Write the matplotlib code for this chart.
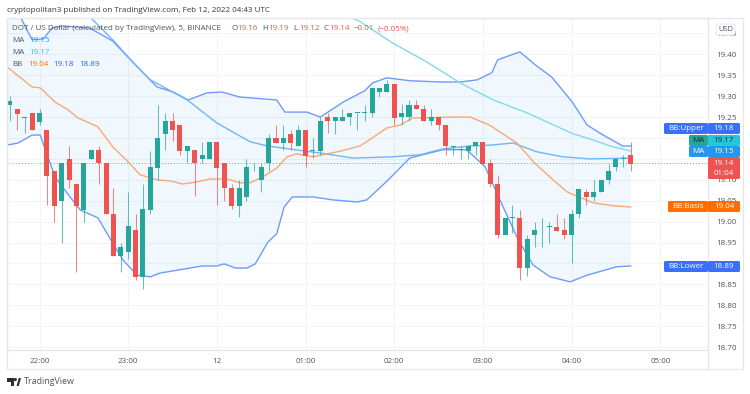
#!/usr/bin/env python3
"""DOT / US Dollar 5 minute candles with Bollinger Bands and two moving averages."""

import matplotlib
matplotlib.use("Agg")
import matplotlib.pyplot as plt
from matplotlib.patches import FancyBboxPatch, Rectangle, Circle, Polygon
from matplotlib.transforms import Affine2D
import numpy as np

W, H = 750, 394

# bar number 0 is the 22:00 candle, one bar = 5 minutes
bar_idx = list(range(-4, 81))
opens = [19.278, 19.270, 19.248, 19.260, 19.238, 19.220, 19.120, 19.049, 19.150, 19.090,
         19.028, 19.150, 19.171, 19.140, 19.019, 18.919, 18.928, 18.979, 18.868, 19.028,
         19.129, 19.209, 19.240, 19.230, 19.169, 19.171, 19.149, 19.149, 19.190, 19.140,
         19.081, 19.038, 19.060, 19.120, 19.100, 19.140, 19.200, 19.189, 19.210, 19.180,
         19.220, 19.169, 19.170, 19.250, 19.240, 19.240, 19.250, 19.259, 19.259, 19.259,
         19.309, 19.309, 19.330, 19.250, 19.250, 19.279, 19.269, 19.240, 19.250, 19.230,
         19.179, 19.171, 19.170, 19.180, 19.190, 19.140, 19.090, 18.968, 19.008, 19.008,
         18.889, 18.968, 18.979, 18.988, 18.988, 18.979, 18.968, 19.018, 19.070, 19.059,
         19.070, 19.099, 19.130, 19.149, 19.160]
closes = [19.289, 19.258, 19.250, 19.218, 19.260, 19.109, 19.037, 19.140, 19.100, 19.037,
          19.140, 19.171, 19.140, 19.018, 18.919, 18.939, 18.990, 18.868, 19.030, 19.130,
          19.200, 19.240, 19.219, 19.169, 19.180, 19.140, 19.160, 19.190, 19.129, 19.080,
          19.038, 19.081, 19.131, 19.121, 19.130, 19.200, 19.189, 19.200, 19.189, 19.220,
          19.158, 19.171, 19.240, 19.240, 19.250, 19.250, 19.259, 19.260, 19.260, 19.319,
          19.319, 19.330, 19.249, 19.259, 19.279, 19.269, 19.240, 19.250, 19.230, 19.180,
          19.180, 19.172, 19.180, 19.190, 19.139, 19.089, 18.968, 19.008, 19.009, 18.889,
          18.958, 18.979, 18.980, 18.989, 18.978, 18.968, 19.018, 19.079, 19.059, 19.070,
          19.100, 19.120, 19.150, 19.150, 19.139]
highs = [19.301, 19.270, 19.250, 19.260, 19.270, 19.220, 19.120, 19.140, 19.180, 19.090,
         19.140, 19.171, 19.180, 19.140, 19.080, 18.949, 19.070, 19.019, 19.090, 19.170,
         19.279, 19.259, 19.259, 19.230, 19.180, 19.171, 19.190, 19.190, 19.190, 19.140,
         19.090, 19.100, 19.150, 19.140, 19.140, 19.210, 19.230, 19.230, 19.220, 19.230,
         19.220, 19.200, 19.250, 19.259, 19.250, 19.269, 19.259, 19.260, 19.279, 19.319,
         19.319, 19.339, 19.330, 19.281, 19.290, 19.290, 19.279, 19.269, 19.250, 19.230,
         19.180, 19.180, 19.180, 19.190, 19.190, 19.150, 19.111, 19.008, 19.039, 19.029,
         18.969, 18.999, 19.008, 18.999, 19.019, 19.008, 19.029, 19.079, 19.079, 19.100,
         19.100, 19.139, 19.150, 19.160, 19.190]
lows = [19.240, 19.219, 19.211, 19.218, 19.230, 19.040, 18.9995, 18.950, 19.081, 18.880,
        18.9995, 19.150, 19.091, 19.018, 18.919, 18.880, 18.910, 18.860, 18.840, 19.018,
        19.100, 19.172, 19.192, 19.160, 19.140, 19.062, 19.140, 19.149, 19.040, 19.050,
        19.030, 19.010, 19.050, 19.120, 19.070, 19.120, 19.189, 19.171, 19.171, 19.180,
        19.131, 19.151, 19.160, 19.212, 19.210, 19.240, 19.230, 19.220, 19.240, 19.250,
        19.299, 19.309, 19.230, 19.230, 19.240, 19.269, 19.240, 19.230, 19.220, 19.160,
        19.160, 19.150, 19.150, 19.160, 19.139, 19.082, 18.960, 18.968, 18.972, 18.860,
        18.870, 18.940, 18.940, 18.949, 18.978, 18.959, 18.900, 19.009, 19.040, 19.050,
        19.070, 19.090, 19.120, 19.130, 19.120]

upper_x = [-4.4, -2.6, -1.0, 0.5, 1.7, 3.2, 6.8, 9.9, 12.7, 15.9, 18.1, 20.1, 22.7, 24.7, 27.1,
           32.1, 33.2, 36.2, 38.0, 41.1, 44.0, 45.1, 47.0, 50.1, 54.2, 56.9, 59.2, 61.2, 62.0,
           65.0, 67.3, 69.3, 72.1, 74.1, 76.0, 78.9, 80.0]
upper_y = [19.56, 19.490, 19.435, 19.437, 19.463, 19.468, 19.463, 19.432, 19.380, 19.322, 19.310,
           19.291, 19.308, 19.310, 19.298, 19.291, 19.262, 19.262, 19.250, 19.286, 19.313, 19.332,
           19.344, 19.337, 19.334, 19.334, 19.339, 19.356, 19.387, 19.406, 19.372, 19.346, 19.286,
           19.231, 19.210, 19.181, 19.181]
lower_x = [-4.4, -2.9, -1.0, 0.1, 0.7, 2.1, 3.7, 5.5, 7.9, 9.9, 11.3, 13.2, 15.0, 16.3, 19.7, 22.0,
           24.0, 25.0, 26.5, 28.1, 29.2, 30.9, 32.1, 33.1, 34.2, 37.0, 39.7, 43.0, 44.3, 47.2, 50.1,
           51.9, 54.6, 57.8, 60.3, 62.3, 64.8, 66.8, 69.1, 71.8, 74.1, 78.1, 80.0]
lower_y = [19.183, 19.188, 19.207, 19.207, 19.176, 19.107, 19.069, 19.028, 19.009, 18.949, 18.908,
           18.872, 18.868, 18.877, 18.887, 18.894, 18.894, 18.899, 18.889, 18.889, 18.899, 18.951,
           18.971, 19.035, 19.059, 19.059, 19.052, 19.047, 19.052, 19.100, 19.152, 19.160, 19.172,
           19.172, 19.131, 19.052, 18.956, 18.896, 18.868, 18.856, 18.872, 18.892, 18.894]
basis_x = [-4.4, -1.0, 0.1, 2.1, 3.9, 5.2, 7.9, 9.9, 12.0, 13.6, 15.9, 17.7, 19.4, 21.3, 23.1, 25.4,
           27.1, 28.5, 30.2, 32.1, 33.5, 34.8, 37.0, 40.3, 43.4, 47.0, 48.8, 50.5, 55.9, 58.3, 60.9,
           61.9, 64.6, 67.0, 69.5, 71.4, 74.9, 77.6, 80.0]
basis_y = [19.370, 19.322, 19.320, 19.286, 19.267, 19.248, 19.227, 19.179, 19.143, 19.112, 19.100,
           19.097, 19.090, 19.095, 19.102, 19.102, 19.093, 19.093, 19.107, 19.128, 19.155, 19.162,
           19.155, 19.167, 19.181, 19.224, 19.231, 19.248, 19.250, 19.250, 19.231, 19.219, 19.188,
           19.140, 19.100, 19.071, 19.045, 19.038, 19.035]
ma_fast_x = [6.8, 9.9, 12.7, 15.0, 20.0, 24.0, 28.5, 30.8, 32.9, 38.0, 42.4, 47.8, 51.5, 54.6, 58.3,
             61.0, 64.1, 67.3, 70.8, 74.5, 80.0]
ma_fast_y = [19.490, 19.435, 19.380, 19.339, 19.291, 19.236, 19.191, 19.181, 19.176, 19.164, 19.152,
             19.155, 19.160, 19.174, 19.181, 19.183, 19.188, 19.167, 19.155, 19.150, 19.152]
ma_slow_x = [42.4, 43.4, 47.8, 52.4, 56.9, 61.4, 66.0, 72.2, 74.1, 77.6, 80.0]
ma_slow_y = [19.487, 19.478, 19.427, 19.382, 19.332, 19.291, 19.260, 19.210, 19.200, 19.179, 19.169]

last_price = 19.14
# 19.15 and 19.20 sit fully behind the price labels
price_ticks = [18.70, 18.75, 18.80, 18.85, 18.90, 18.95, 19.00, 19.05, 19.10, 19.25,
               19.30, 19.35, 19.40, 19.45]
grid_prices = [19.15, 19.20]
hour_ticks = [0, 12, 24, 36, 48, 60, 72, 84]
hour_labels = ["22:00", "23:00", "12", "01:00", "02:00", "03:00", "04:00", "05:00"]

UP = "#26a69a"
DOWN = "#ef5350"
BB_BLUE = "#6f9bfb"
MA_BLUE = "#6fb6f5"
MA_TEAL = "#7fdbe6"
ORANGE = "#f9a873"
GRID = "#f2f4f8"
FRAME = "#e6e7ea"
TEXT = "#50535e"

plt.rcParams["font.family"] = ["Open Sans", "DejaVu Sans"]
FS = 5.8

fig = plt.figure(figsize=(W / 100, H / 100), dpi=100, facecolor="white")
# pixels of the picture, y measured from the bottom
px = Affine2D().scale(1 / W, 1 / H) + fig.transFigure


def label(x, y, s, color=TEXT, ha="left", size=FS):
    fig.text(x / W, 1 - y / H, s, color=color, ha=ha, va="center", fontsize=size, zorder=8)


def box(x0, y0, x1, y1, color, edge="none"):
    fig.patches.append(FancyBboxPatch(
        (x0, H - y1), x1 - x0, y1 - y0, boxstyle="round,pad=0,rounding_size=1.5",
        fc=color, ec=edge, lw=0.6, transform=px, zorder=6))


ax = fig.add_axes([7 / W, 1 - 350 / H, (708 - 7) / W, (350 - 18) / H])
ax.set_xlim(-4.4, 90.46)
ax.set_ylim(18.693, 19.487)
ax.set_facecolor("white")

ax.fill(np.r_[upper_x, lower_x[::-1]], np.r_[upper_y, lower_y[::-1]],
        color="#2196f3", alpha=0.065, lw=0, zorder=1)
ax.grid(True, color=GRID, lw=0.8, zorder=0)
ax.set_axisbelow(True)
for p in grid_prices:
    ax.axhline(p, color=GRID, lw=0.8, zorder=0)

ax.axhline(last_price, color=DOWN, lw=0.7, ls=(0, (1, 2)), alpha=0.8, zorder=2)

ax.plot(upper_x, upper_y, color=BB_BLUE, lw=1.0, zorder=3)
ax.plot(lower_x, lower_y, color=BB_BLUE, lw=1.0, zorder=3)
ax.plot(ma_fast_x, ma_fast_y, color=MA_BLUE, lw=1.0, zorder=3)
ax.plot(ma_slow_x, ma_slow_y, color=MA_TEAL, lw=1.0, zorder=3)
ax.plot(basis_x, basis_y, color=ORANGE, lw=1.0, zorder=3)

colors = [UP if c >= o else DOWN for o, c in zip(opens, closes)]
ax.vlines(bar_idx, lows, highs, colors=colors, lw=0.75, alpha=0.7, zorder=4)
body_low = np.minimum(opens, closes)
body_h = np.maximum(np.abs(np.array(closes) - np.array(opens)), 0.002)
ax.bar(bar_idx, body_h, bottom=body_low, width=0.68, color=colors, lw=0, zorder=5)

ax.yaxis.tick_right()
ax.set_yticks(price_ticks)
ax.set_yticklabels([f"{p:.2f}" for p in price_ticks])
ax.set_xticks(hour_ticks)
ax.set_xticklabels(hour_labels)
ax.tick_params(axis="y", length=0, pad=5.8, labelsize=FS, labelcolor=TEXT)
ax.tick_params(axis="x", length=0, pad=5.6, labelsize=FS, labelcolor=TEXT)
for name in ax.spines:
    ax.spines[name].set_color(FRAME)
    ax.spines[name].set_linewidth(0.9)

# price scale and time scale frame
fig.patches.append(Rectangle((7, H - 369), 736, 351, fc="none", ec=FRAME, lw=0.9,
                             transform=px, zorder=1))
fig.patches.append(Rectangle((708, H - 369), 0, 19, fc="none", ec=FRAME, lw=0.9,
                             transform=px, zorder=1))

# header
label(7, 10, "cryptopolitan3 published on TradingView.com, Feb 12, 2022 04:43 UTC", "#333740")
label(12, 29, "DOT / US Dollar (calculated by TradingView), 5, BINANCE")
for x, s, col in [(231, "O", TEXT), (237, "19.16", DOWN), (262, "H", TEXT), (268, "19.19", DOWN),
                  (293, "L", TEXT), (299, "19.12", DOWN), (323, "C", TEXT), (329, "19.14", DOWN),
                  (354, "\u22120.01", DOWN), (378, "(\u22120.05%)", DOWN)]:
    label(x, 29, s, col)
label(12, 41, "MA")
label(29, 41, "19.15", "#2196f3")
label(12, 53, "MA")
label(29, 53, "19.17", "#26c6da")
label(12, 65, "BB")
label(28, 65, "19.04", "#ff6d00")
label(53, 65, "19.18", "#2962ff")
label(79, 65, "18.89", "#2962ff")

# labels on the price scale
box(716, 24, 735, 35, "white", "#e0e3eb")
label(725.5, 29.5, "USD", TEXT, ha="center", size=5.4)

for name, value, col, name_col, x0, y0, y1 in [
        ("BB:Upper", "19.18", "#3a6ff7", "#3a6ff7", 664, 123, 134),
        ("MA", "19.17", "#26c6da", "#26a69a", 689, 135, 146),
        ("MA", "19.15", "#2196f3", "#2196f3", 689, 146, 157),
        ("BB:Basis", "19.04", "#ff6d00", "#ff6d00", 668, 201, 212),
        ("BB:Lower", "18.89", "#3a6ff7", "#3a6ff7", 664, 261, 272)]:
    box(x0, y0, 708, y1, name_col)
    box(708, y0, 740, y1, col)
    dark = col == "#26c6da"
    label((x0 + 708) / 2, (y0 + y1) / 2 - 0.3, name, "#10302e" if dark else "white", ha="center")
    label(724, (y0 + y1) / 2 - 0.3, value, "#10302e" if dark else "white", ha="center")

box(708, 157, 740, 179, DOWN)
label(724, 163, "19.14", "white", ha="center")
label(724, 173, "01:04", "white", ha="center")

# TradingView logo
LOGO = "#2a2e39"
fig.patches.append(Polygon([(7, H - 378), (14, H - 378), (14, H - 386), (10.5, H - 386),
                            (10.5, H - 381.5), (7, H - 381.5)],
                           fc=LOGO, lw=0, transform=px, zorder=6))
fig.patches.append(Circle((15.3, H - 379.6), 1.6, fc=LOGO, lw=0, transform=px, zorder=6))
fig.patches.append(Polygon([(16.5, H - 386), (18.8, H - 378), (21, H - 378), (18.8, H - 386)],
                           fc=LOGO, lw=0, transform=px, zorder=6))
label(24, 382, "TradingView", "#50535e", size=6.4)

fig.savefig("out.png", dpi=100)
